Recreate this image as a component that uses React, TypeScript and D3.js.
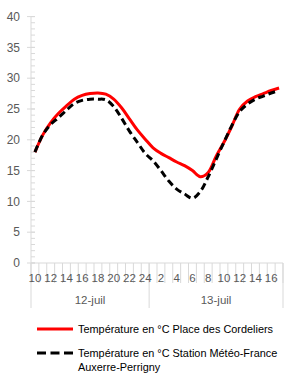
import React from "react";
import * as d3 from "d3";

const hours12 = [10, 11, 12, 13, 14, 15, 16, 17, 18, 19, 20, 21, 22, 23, 24];
const hours13 = [1, 2, 3, 4, 5, 6, 7, 8, 9, 10, 11, 12, 13, 14, 15, 16, 17];
const groups = ["12-juil", "13-juil"];
const cordeliers = [
  18.0, 20.8, 22.8, 24.3, 25.5, 26.6, 27.2, 27.5, 27.6, 27.4, 26.6, 25.2, 23.4, 21.6, 20.1,
  18.7, 17.8, 17.1, 16.4, 15.8, 15.0, 14.0, 14.7, 17.3, 19.6, 22.2, 25.0, 26.3, 27.0, 27.5, 28.0, 28.4,
];
const perrigny = [
  18.0, 20.8, 22.5, 23.6, 24.8, 25.9, 26.4, 26.6, 26.6, 26.5, 25.4, 23.5, 21.4, 19.6, 17.8,
  16.6, 15.0, 13.3, 12.0, 11.2, 10.5, 11.6, 14.0, 16.8, 19.6, 22.3, 24.6, 25.8, 26.6, 27.1, 27.6, 28.0,
];
const yTicks = [0, 5, 10, 15, 20, 25, 30, 35, 40];
const legendLabels = [
  ["Température en °C Place des Cordeliers"],
  ["Température en °C Station Météo-France", "Auxerre-Perrigny"],
];

export default function App() {
  const W = 300, H = 386;
  const left = 31, right = 283, top = 16.6, bottom = 263;
  const cats = [
    ...hours12.map((h) => ({ g: 0, h })),
    ...hours13.map((h) => ({ g: 1, h })),
  ];
  const x = d3.scaleBand<number>().domain(d3.range(cats.length)).range([left, right]).padding(0);
  const bw = x.bandwidth();
  const cx = (i: number) => (x(i) as number) + bw / 2;
  const y = d3.scaleLinear().domain([0, 40]).range([bottom, top]);
  const line = d3
    .line<number>()
    .x((_, i) => cx(i))
    .y((d) => y(d))
    .curve(d3.curveCatmullRom.alpha(0.5));
  const grey = "#d9d9d9";
  const labelColor = "#595959";
  const font = "'Liberation Sans', Arial, sans-serif";
  const minor = d3.range(0, 41, 1);
  const sepIdx = [0, hours12.length, cats.length];
  const sepX = sepIdx.map((i) => (i < cats.length ? (x(i) as number) : right));

  return (
    <svg width={W} height={H} style={{ position: "absolute", left: 0, top: 0, background: "#fff" }}>
      {/* y axis */}
      <line x1={left} x2={left} y1={y(40)} y2={bottom} stroke={grey} strokeWidth={1} />
      {minor.map((v) => (
        <line key={"m" + v} x1={left} x2={left + 4} y1={y(v)} y2={y(v)} stroke={grey} strokeWidth={1} />
      ))}
      {yTicks.map((v) => (
        <g key={"y" + v}>
          <line x1={left - 4} x2={left + 4} y1={y(v)} y2={y(v)} stroke={grey} strokeWidth={1} />
          <text x={20} y={y(v)} dy="0.35em" textAnchor="end" fontFamily={font} fontSize={12} fill={labelColor}>
            {v}
          </text>
        </g>
      ))}
      {/* x axis */}
      <line x1={left} x2={right} y1={bottom} y2={bottom} stroke={grey} strokeWidth={1} />
      {d3.range(cats.length + 1).map((i) => {
        const xx = i < cats.length ? (x(i) as number) : right;
        return <line key={"t" + i} x1={xx} x2={xx} y1={bottom} y2={bottom + 20} stroke={grey} strokeWidth={1} />;
      })}
      {sepX.map((xx, i) => (
        <line key={"s" + i} x1={xx} x2={xx} y1={bottom} y2={308} stroke={grey} strokeWidth={1} />
      ))}
      {cats.map((c, i) =>
        i % 2 === 0 ? (
          <text key={"xl" + i} x={cx(i)} y={278} dy="0.35em" textAnchor="middle" fontFamily={font} fontSize={11.5} fill={labelColor}>
            {c.h}
          </text>
        ) : null
      )}
      {groups.map((g, i) => (
        <text key={g} x={(sepX[i] + sepX[i + 1]) / 2} y={300} dy="0.35em" textAnchor="middle" fontFamily={font} fontSize={11.5} fill={labelColor}>
          {g}
        </text>
      ))}
      {/* series */}
      <path d={line(cordeliers) || ""} fill="none" stroke="#ff0000" strokeWidth={3} strokeLinejoin="round" />
      <path d={line(perrigny) || ""} fill="none" stroke="#000" strokeWidth={3} strokeDasharray="7,4" />
      {/* legend */}
      <line x1={37} x2={73} y1={329} y2={329} stroke="#ff0000" strokeWidth={3} />
      <line x1={37} x2={73} y1={353} y2={353} stroke="#000" strokeWidth={3} strokeDasharray="9,4.5" />
      {legendLabels.map((lines, i) =>
        lines.map((t, j) => (
          <text key={i + "-" + j} x={78} y={(i === 0 ? 329 : 353) + j * 14} dy="0.35em" fontFamily={font} fontSize={10.9} fill="#000">
            {t}
          </text>
        ))
      )}
    </svg>
  );
}
